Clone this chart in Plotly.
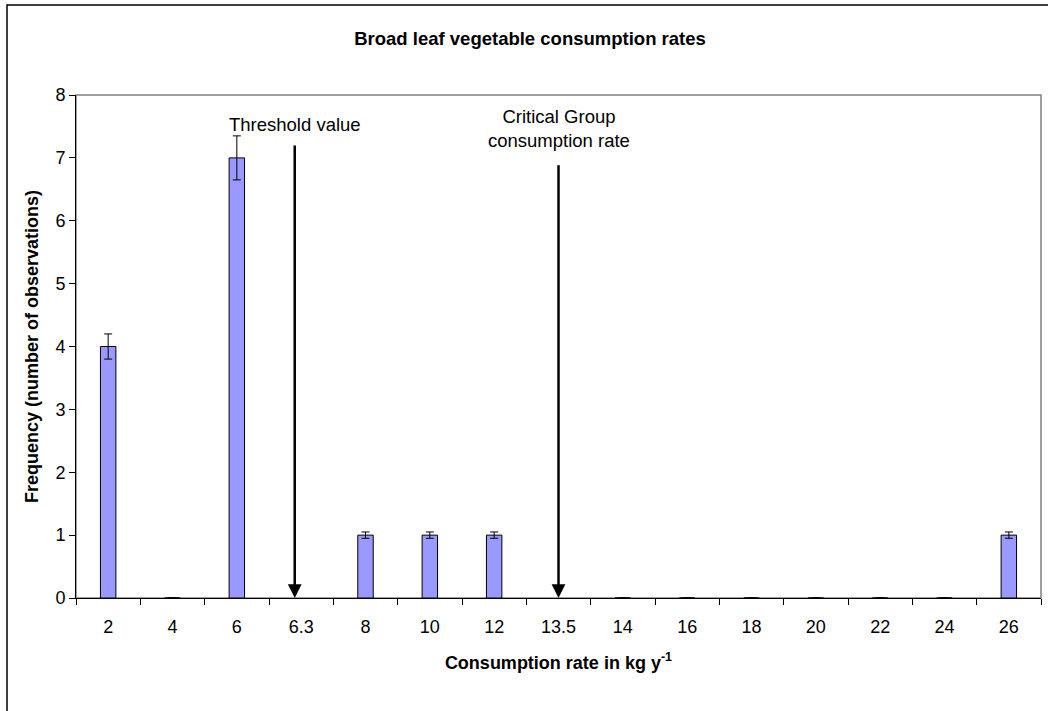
import plotly.graph_objects as go

categories = ["2", "4", "6", "6.3", "8", "10", "12", "13.5", "14", "16", "18", "20", "22", "24", "26"]
frequency = [4, 0, 7, None, 1, 1, 1, None, 0, 0, 0, 0, 0, 0, 1]
error_vals = [0.2, 0, 0.35, None, 0.05, 0.05, 0.05, None, 0, 0, 0, 0, 0, 0, 0.05]

threshold_pos = 2.9
threshold_label_y = 7.53
critical_pos = 7.0
critical_label_y = 7.47

FONT = "Arial, 'Liberation Sans', sans-serif"

fig = go.Figure()
fig.add_trace(go.Bar(
    x=categories, y=frequency,
    marker=dict(color="#9999ff", line=dict(color="#000000", width=1)),
    error_y=dict(type="data", array=error_vals, visible=True, color="#000000",
                 thickness=1, width=4),
    width=0.24,
))

L, R, T, B = 76, 7, 95, 113
W, H = 1048, 711
pw = W - L - R
ph = H - T - B

def px2x(p):
    return (p - L) / pw

def py2y(p):
    return (H - B - p) / ph

shapes = [
    # outer chart border
    dict(type="rect", xref="paper", yref="paper",
         x0=px2x(7), x1=px2x(1060), y0=py2y(725), y1=py2y(5),
         line=dict(color="#000000", width=1.5), layer="below"),
    # plot area border
    dict(type="rect", xref="paper", yref="paper", x0=0, x1=1, y0=0, y1=1,
         line=dict(color="#808080", width=1.5), layer="below"),
]

annotations = [
    dict(x=threshold_pos, y=0, ax=threshold_pos, ay=threshold_label_y,
         xref="x", yref="y", axref="x", ayref="y",
         text="Threshold value", showarrow=True, arrowhead=2, arrowsize=1.1,
         arrowwidth=2.5, arrowcolor="#000000", startstandoff=9,
         font=dict(family=FONT, size=18.5, color="#000000")),
    dict(x=critical_pos, y=0, ax=critical_pos, ay=critical_label_y,
         xref="x", yref="y", axref="x", ayref="y",
         text="Critical Group<br>consumption rate", showarrow=True, arrowhead=2,
         arrowsize=1.1, arrowwidth=2.5, arrowcolor="#000000", startstandoff=13,
         font=dict(family=FONT, size=18.5, color="#000000")),
]

fig.update_layout(
    width=W, height=H,
    margin=dict(l=L, r=R, t=T, b=B, pad=0),
    paper_bgcolor="#ffffff", plot_bgcolor="#ffffff",
    showlegend=False,
    bargap=0.76,
    font=dict(family=FONT, size=18, color="#000000"),
    title=dict(text="<b>Broad leaf vegetable consumption rates</b>",
               x=530 / W, xanchor="center",
               y=1 - 38.5 / H, yanchor="middle",
               font=dict(family=FONT, size=18.5, color="#000000")),
    xaxis=dict(
        type="category", categoryorder="array", categoryarray=categories,
        showline=True, linecolor="#000000", linewidth=1,
        ticks="outside", tickson="boundaries", ticklen=6, tickcolor="#000000",
        ticklabelstandoff=12,
        showgrid=False, zeroline=False,
        tickfont=dict(family=FONT, size=18),
        title=dict(text="<b>Consumption rate in kg y<sup>-1</sup></b>",
                   font=dict(family=FONT, size=18), standoff=20),
    ),
    yaxis=dict(
        range=[0, 8], dtick=1, tick0=0,
        showline=True, linecolor="#000000", linewidth=1,
        ticks="outside", ticklen=6, tickcolor="#000000",
        showgrid=False, zeroline=False,
        tickfont=dict(family=FONT, size=18),
        title=dict(text="<b>Frequency (number of observations)</b>",
                   font=dict(family=FONT, size=18), standoff=12),
    ),
    shapes=shapes,
    annotations=annotations,
)

fig.write_html("out.html",
               config={"displayModeBar": False},
               post_script="document.body.style.margin='0';document.body.style.overflow='hidden';")
